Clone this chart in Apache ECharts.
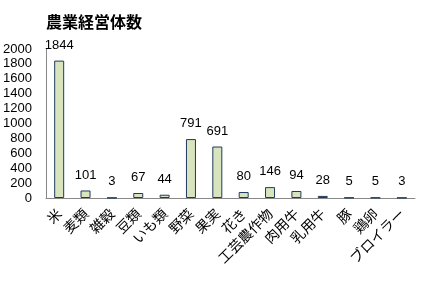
<!DOCTYPE html>
<html><head><meta charset="utf-8">
<script src="https://cdn.jsdelivr.net/npm/echarts@6/dist/echarts.min.js"></script>
<style>html,body{margin:0;padding:0;background:#fff}#c{width:421px;height:281px}</style>
</head><body><div id="c"></div>
<script>
const title = '農業経営体数';
const categories = ['米','麦類','雑穀','豆類','いも類','野菜','果実','花き','工芸農作物','肉用牛','乳用牛','豚','鶏卵','ブロイラー'];
const values = [1844,101,3,67,44,791,691,80,146,94,28,5,5,3];
const yTicks = {min:0, max:2000, interval:200};

const chart = echarts.init(document.getElementById('c'));
chart.setOption({
  animation:false,
  title:{text:title,left:41,top:9,textStyle:{fontFamily:'Noto Sans CJK JP',fontSize:16,fontWeight:'bold',color:'#000'}},
  grid:{left:46,right:6,top:49,bottom:83},
  xAxis:{type:'category',data:categories,
    axisLine:{lineStyle:{color:'#888'}},axisTick:{show:false},
    axisLabel:{rotate:45,interval:0,margin:13,fontFamily:'Noto Sans CJK JP',fontSize:14,color:'#000'}},
  yAxis:{type:'value',min:yTicks.min,max:yTicks.max,interval:yTicks.interval,
    axisLine:{show:true,lineStyle:{color:'#888'}},axisTick:{show:false},splitLine:{show:false},
    axisLabel:{margin:14,fontFamily:'Liberation Sans',fontSize:13,color:'#000',formatter:v=>String(v)}},
  series:[{type:'bar',data:values,barWidth:10,
    itemStyle:{color:'#d7e4bd',borderColor:'#1f3a5f',borderWidth:1},
    label:{show:true,position:'top',distance:9,fontFamily:'Liberation Sans',fontSize:13,color:'#000'}}]
});
</script></body></html>
